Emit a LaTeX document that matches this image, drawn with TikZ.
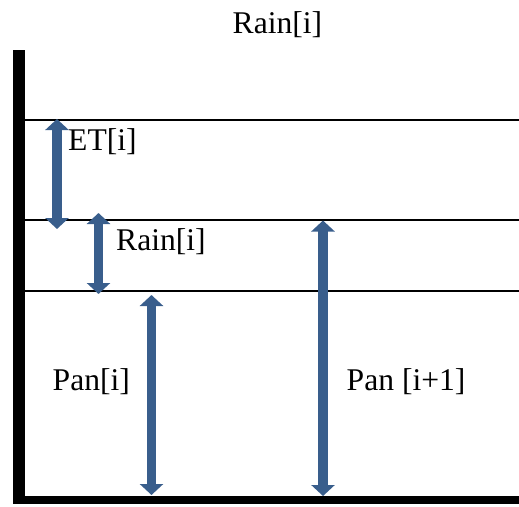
\documentclass[tikz,border=0pt]{standalone}
\usepackage{fontspec}
\setmainfont{Liberation Serif}
\usetikzlibrary{arrows.meta}
\definecolor{arrowblue}{RGB}{57,94,140}
\tikzset{
  label text/.style={anchor=base west, inner sep=0pt, font=\fontsize{31.6}{36}\selectfont},
  level line/.style={line width=2pt, black},
  flow arrow/.style={arrowblue, line width=9.5pt,
    {Triangle[width=23pt,length=11pt]}-{Triangle[width=23pt,length=11pt]}},
}
\begin{document}
\begin{tikzpicture}[x=1pt,y=-1pt]
\useasboundingbox (0,0) rectangle (519,506);
% walls of the pan
\fill[black] (13,50) rectangle (25,504);
\fill[black] (13,496) rectangle (519,504);
% water levels
\draw[level line] (25,120) -- (519,120);
\draw[level line] (25,220) -- (519,220);
\draw[level line] (25,291) -- (519,291);
% end points of the arrows
\coordinate (et top) at (57,119);
\coordinate (et bot) at (57,229);
\coordinate (rain top) at (98.5,213);
\coordinate (rain bot) at (98.5,294);
\coordinate (pan top) at (151.5,295);
\coordinate (pan bot) at (151.5,495);
\coordinate (next top) at (323,220.5);
\coordinate (next bot) at (323,496);
\draw[flow arrow] (et top) -- (et bot);
\draw[flow arrow] (rain top) -- (rain bot);
\draw[flow arrow] (pan top) -- (pan bot);
\draw[flow arrow] (next top) -- (next bot);
% labels
\node[label text] (rain title) at (232.5,33) {Rain[i]};
\node[label text] (et label) at (68,150) {ET[i]};
\node[label text] (rain label) at (116,250) {Rain[i]};
\node[label text] (pan label) at (52.5,390) {Pan[i]};
\node[label text] (next label) at (346.5,390) {Pan [i+1]};
\end{tikzpicture}
\end{document}
